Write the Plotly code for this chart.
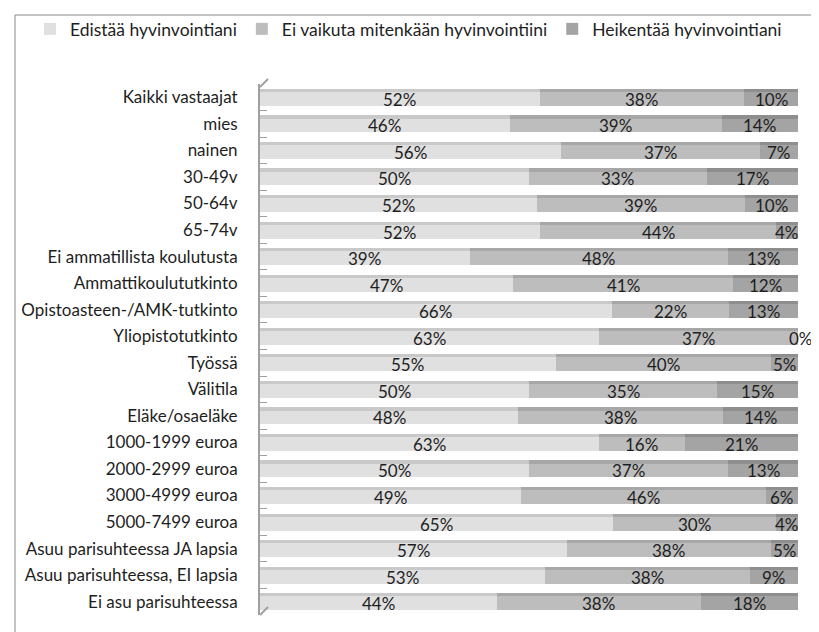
import plotly.graph_objects as go

categories = ["Kaikki vastaajat", "mies", "nainen", "30-49v", "50-64v", "65-74v",
              "Ei ammatillista koulutusta", "Ammattikoulututkinto",
              "Opistoasteen-/AMK-tutkinto", "Yliopistotutkinto", "Työssä", "Välitila",
              "Eläke/osaeläke", "1000-1999 euroa", "2000-2999 euroa", "3000-4999 euroa",
              "5000-7499 euroa", "Asuu parisuhteessa JA lapsia",
              "Asuu parisuhteessa, EI lapsia", "Ei asu parisuhteessa"]
edistaa = [52, 46, 56, 50, 52, 52, 39, 47, 66, 63, 55, 50, 48, 63, 50, 49, 65, 57, 53, 44]
ei_vaikuta = [38, 39, 37, 33, 39, 44, 48, 41, 22, 37, 40, 35, 38, 16, 37, 46, 30, 38, 38, 38]
heikentaa = [10, 14, 7, 17, 10, 4, 13, 12, 13, 0, 5, 15, 14, 21, 13, 6, 4, 5, 9, 18]

series = [
    ("Edistää hyvinvointiani", edistaa, "#e0e0e0", "#c9c9c9"),
    ("Ei vaikuta mitenkään hyvinvointiini", ei_vaikuta, "#bdbdbd", "#a7a7a7"),
    ("Heikentää hyvinvointiani", heikentaa, "#a4a4a4", "#8e8e8e"),
]

FONT = "Lato"
TXT = "#1e1e1e"
W, H = 819, 632
L, R, T, B = 252, 29, 76, 25
pw, ph = W - L - R, H - T - B


def px(x):
    return (x - L) / pw


def py(y):
    return (H - B - y) / ph


fig = go.Figure()
totals = [a + b + c for a, b, c in zip(edistaa, ei_vaikuta, heikentaa)]
cum = [0] * len(categories)
annotations = []
for name, vals, col, face in series:
    # bar body
    fig.add_trace(go.Bar(
        y=categories, x=vals, name=name, orientation="h",
        width=0.52, offset=-0.2,
        marker=dict(color=col, line=dict(width=0)),
        hoverinfo="x+y+name",
    ))
    # top face of the 3-D bar
    fig.add_trace(go.Bar(
        y=categories, x=vals, name=name, orientation="h", yaxis="y2",
        width=0.12, offset=-0.32, showlegend=False,
        marker=dict(color=face, line=dict(width=0)),
        hoverinfo="skip",
    ))
    for i, v in enumerate(vals):
        mid = (cum[i] + v / 2) / totals[i] * 100
        annotations.append(dict(
            x=mid, y=categories[i], xref="x", yref="y",
            text=f"{v}%", showarrow=False, yshift=-2,
            xshift=3 if v == 0 else 0,
            font=dict(family=FONT, size=17, color=TXT),
        ))
        cum[i] += v

yrange = [len(categories) - 0.5, -0.5]
fig.update_layout(
    width=W, height=H,
    barmode="stack", barnorm="percent",
    margin=dict(l=L, r=R, t=T, b=B, autoexpand=False),
    paper_bgcolor="white", plot_bgcolor="white",
    font=dict(family=FONT, size=17, color=TXT),
    showlegend=True,
    legend=dict(orientation="h", xref="paper", yref="paper",
                x=px(22), xanchor="left", y=py(21), yanchor="middle",
                font=dict(family=FONT, size=17.5, color=TXT),
                traceorder="normal", itemwidth=30, bgcolor="rgba(0,0,0,0)"),
    xaxis=dict(range=[0, 100.001], visible=False),
    yaxis=dict(range=yrange, type="category", showgrid=False, ticks="inside",
               tickson="boundaries", ticklen=7, tickcolor="#a0a0a0",
               showline=True, linecolor="#a0a0a0", linewidth=2,
               ticklabelstandoff=17,
               tickfont=dict(family=FONT, size=17, color=TXT)),
    yaxis2=dict(range=yrange, type="category", overlaying="y", visible=False,
                categoryorder="array", categoryarray=categories),
    annotations=annotations,
    shapes=[
        dict(type="rect", xref="paper", yref="paper",
             x0=px(7), x1=px(840), y0=py(7), y1=py(660),
             line=dict(color="#8a8a8a", width=1), fillcolor="rgba(0,0,0,0)", layer="below"),
        dict(type="line", xref="paper", yref="paper",
             x0=px(252), x1=px(260), y0=py(79), y1=py(71),
             line=dict(color="#a0a0a0", width=2)),
        dict(type="line", xref="paper", yref="paper",
             x0=px(252), x1=px(260), y0=py(607), y1=py(599),
             line=dict(color="#a0a0a0", width=2)),
    ],
)

fig.write_html("out.html")
